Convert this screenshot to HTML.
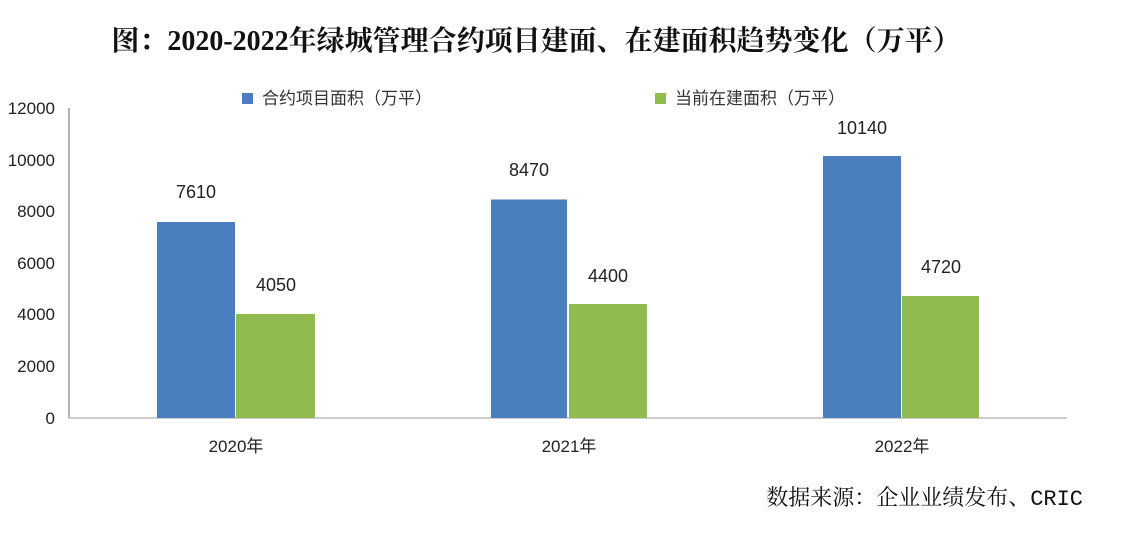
<!DOCTYPE html>
<html><head><meta charset="utf-8"><style>
body{margin:0;width:1122px;height:528px;background:#fff;overflow:hidden}
svg text{font-family:"Liberation Sans","Noto Sans CJK SC",sans-serif}
</style></head><body>
<svg width="1122" height="528" xmlns="http://www.w3.org/2000/svg">
<text x="536" y="50" text-anchor="middle" font-size="28" font-weight="bold" style="font-family:'Liberation Serif','Noto Serif CJK SC',serif" fill="#111">图：2020-2022年绿城管理合约项目建面、在建面积趋势变化（万平）</text>
<rect x="242" y="93" width="11" height="11" fill="#4a7ebf"/>
<text x="262" y="104" font-size="17" fill="#333">合约项目面积（万平）</text>
<rect x="655" y="93" width="11" height="11" fill="#92bb4f"/>
<text x="675" y="104" font-size="17" fill="#333">当前在建面积（万平）</text>
<g font-size="17" fill="#222" text-anchor="end">
<text x="55" y="424">0</text><text x="55" y="372">2000</text><text x="55" y="320">4000</text>
<text x="55" y="269">6000</text><text x="55" y="217">8000</text><text x="55" y="166">10000</text><text x="55" y="114">12000</text>
</g>
<line x1="69" y1="108" x2="69" y2="418" stroke="#999" stroke-width="1.5"/>
<line x1="69" y1="418" x2="1067" y2="418" stroke="#bbb" stroke-width="1.5"/>
<rect x="157" y="222" width="78" height="196" fill="#4a7ebf"/>
<rect x="236" y="314" width="79" height="104" fill="#92bb4f"/>
<rect x="491" y="199.5" width="76" height="218.5" fill="#4a7ebf"/>
<rect x="569" y="304" width="78" height="114" fill="#92bb4f"/>
<rect x="823" y="156" width="78" height="262" fill="#4a7ebf"/>
<rect x="902" y="296" width="77" height="122" fill="#92bb4f"/>
<g font-size="18" fill="#222" text-anchor="middle">
<text x="196" y="198">7610</text><text x="276" y="291">4050</text>
<text x="529" y="176">8470</text><text x="608" y="282">4400</text>
<text x="862" y="134">10140</text><text x="941" y="273">4720</text>
</g>
<g font-size="17" fill="#222" text-anchor="middle">
<text x="236" y="452">2020年</text><text x="569" y="452">2021年</text><text x="902" y="452">2022年</text>
</g>
<text x="1083" y="505" text-anchor="end" font-size="22" style="font-family:'Liberation Mono','Noto Serif CJK SC',serif" fill="#111">数据来源：企业业绩发布、CRIC</text>
</svg>
</body></html>
